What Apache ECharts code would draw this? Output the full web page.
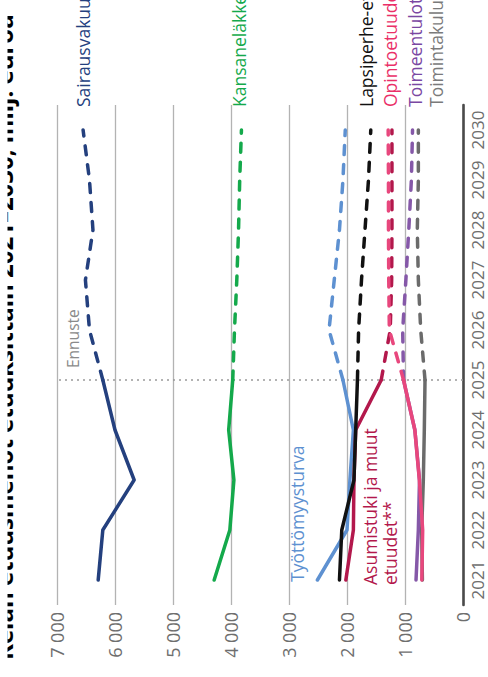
<!DOCTYPE html>
<html lang="fi">
<head>
    <meta charset="UTF-8">
    <title>Kelan etuusmenot 2021–2030</title>
    <style>
        html, body {
            margin: 0;
            padding: 0;
            width: 488px;
            height: 677px;
            overflow: hidden;
            background: #fff;
        }
        /* chart is drawn landscape and turned a quarter round */
        #container {
            position: absolute;
            left: 0;
            top: 677px;
            width: 677px;
            height: 488px;
            transform-origin: 0 0;
            transform: rotate(-90deg);
        }
    </style>
    <script src="https://cdn.jsdelivr.net/npm/echarts@6.0.0/dist/echarts.min.js"></script>
</head>
<body>
<div id="container"></div>
<script type="text/javascript">
    // milj. euroa
    var years = ['2021', '2022', '2023', '2024', '2025', '2026', '2027', '2028', '2029', '2030'];
    var forecastStart = '2025';
    var valueMax = 7000;

    var sairausvakuutus = [6290, 6210, 5670, 6000, 6210, 6440, 6510, 6380, 6440, 6550];
    var kansanelakkeet  = [4290, 4020, 3950, 4040, 3970, 3940, 3900, 3870, 3850, 3820];
    var tyottomyysturva = [2510, 2000, 1950, 1890, 2070, 2310, 2220, 2130, 2070, 2030];
    var asumistuki      = [2020, 1890, 1880, 1850, 1410, 1255, 1230, 1225, 1225, 1225];
    var lapsiperhe      = [2130, 2090, 1880, 1850, 1820, 1800, 1750, 1690, 1630, 1590];
    var toimintakulut   = [700, 712, 684, 667, 655, 729, 770, 788, 770, 770];
    var toimeentulotuki = [810, 770, 750, 830, 1025, 1040, 985, 935, 890, 870];
    var opintoetuudet   = [710, 695, 752, 830, 1025, 1270, 1280, 1285, 1285, 1290];

    var font = '"Open Sans", "Liberation Sans", sans-serif';
    var fIdx = years.indexOf(forecastStart);

    var groups = [
        {name: 'Sairausvakuutus', values: sairausvakuutus, color: '#24407e', end: 0},
        {name: 'Kansaneläkkeet', values: kansanelakkeet, color: '#14a94b', end: -2},
        {name: 'Työttömyysturva', values: tyottomyysturva, color: '#5e91d1', start: [-2, -20]},
        {name: 'Asumistuki ja muut\netuudet**', values: asumistuki, color: '#b3184c', start: [-5, 34]},
        {name: 'Lapsiperhe-etuudet', values: lapsiperhe, color: '#111111', end: -5},
        {name: 'Toimintakulut*', values: toimintakulut, color: '#6b6b6b', labelColor: '#7a7a7a', end: 18},
        {name: 'Toimeentulotuki', values: toimeentulotuki, color: '#8558a8', labelColor: '#7a47a2', end: 2},
        {name: 'Opintoetuudet', values: opintoetuudet, color: '#e8477d', labelColor: '#ea2f68', end: 2}
    ];

    function part(values, solid) {
        return values.map(function (v, i) {
            if (solid) return i <= fIdx ? v : null;
            return i >= fIdx ? v : null;
        });
    }

    var series = [];
    groups.forEach(function (g, k) {
        var solid = {
            type: 'line',
            name: g.name,
            data: part(g.values, true),
            symbol: 'none',
            lineStyle: {color: g.color, width: 3.5, cap: 'round', join: 'round'},
            itemStyle: {color: g.color},
            z: 2 + k
        };
        if (g.start) {
            solid.markPoint = {
                symbol: 'circle',
                symbolSize: 0,
                silent: true,
                data: [{coord: [years[0], g.values[0]]}],
                label: {
                    show: true,
                    formatter: g.name,
                    position: g.start,
                    align: 'left',
                    verticalAlign: 'middle',
                    color: g.color,
                    fontFamily: font,
                    fontSize: 17.5,
                    lineHeight: 20
                }
            };
        }
        var dashed = {
            type: 'line',
            name: g.name + ' ennuste',
            data: part(g.values, false),
            symbol: 'none',
            lineStyle: {color: g.color, width: 3.5, type: [9, 10], cap: 'round', join: 'round'},
            itemStyle: {color: g.color},
            z: 2 + k
        };
        if (g.end !== undefined) {
            dashed.endLabel = {
                show: true,
                formatter: g.name,
                distance: 23,
                offset: [0, g.end],
                color: g.labelColor || g.color,
                fontFamily: font,
                fontSize: 17.5
            };
        }
        series.push(solid, dashed);
    });

    // forecast boundary + "Ennuste"
    series[0].markLine = {
        silent: true,
        symbol: 'none',
        data: [{xAxis: forecastStart}],
        lineStyle: {color: '#9a9a9a', width: 1.6, type: [2, 4]},
        label: {show: false},
        z: 1
    };
    series[0].markPoint = {
        symbol: 'circle',
        symbolSize: 0,
        silent: true,
        data: [{coord: [forecastStart, valueMax]}],
        label: {
            show: true,
            formatter: 'Ennuste',
            position: [12, 16],
            align: 'left',
            verticalAlign: 'middle',
            color: '#8a8a8a',
            fontFamily: font,
            fontSize: 15.5
        }
    };

    var myChart = echarts.init(document.getElementById('container'), null, {renderer: 'svg'});
    myChart.setOption({
        animation: false,
        backgroundColor: '#fff',
        title: {
            text: 'Kelan etuusmenot etuuksittain 2021–2030, milj. euroa',
            left: 17,
            top: -9,
            padding: 0,
            textStyle: {fontSize: 24, fontWeight: 'bold', color: '#000', fontFamily: font}
        },
        graphic: [{
            type: 'rect',
            left: 0,
            top: 0,
            z: 100,
            shape: {width: 677, height: 7.5},
            style: {fill: '#fff'}
        }],
        grid: {left: 72, right: 105, top: 57, bottom: 25},
        xAxis: {
            type: 'category',
            data: years,
            boundaryGap: true,
            axisLine: {lineStyle: {color: '#4a4a4a', width: 2.6}},
            axisTick: {show: false},
            splitLine: {show: false},
            axisLabel: {color: '#6e6e6e', fontSize: 17, margin: 6, interval: 0, fontFamily: font}
        },
        yAxis: {
            type: 'value',
            min: 0,
            max: valueMax,
            interval: 1000,
            axisLine: {show: false},
            axisTick: {show: false},
            splitLine: {lineStyle: {color: '#b3b3b3', width: 1.3}},
            axisLabel: {
                color: '#6e6e6e',
                fontSize: 18,
                margin: 7,
                fontFamily: font,
                formatter: function (v) {
                    return v >= 1000 ? Math.floor(v / 1000) + ' 000' : String(v);
                }
            }
        },
        series: series
    });
</script>
</body>
</html>
